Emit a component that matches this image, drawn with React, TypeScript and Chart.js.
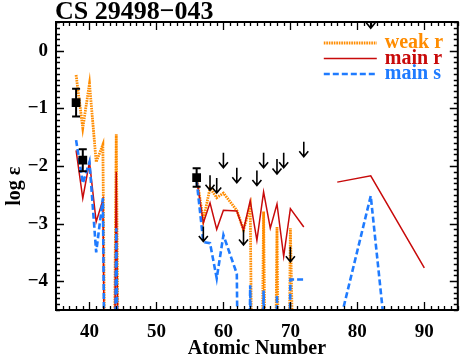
import React, { useEffect, useRef } from "react";
import { Chart, registerables } from "chart.js";

Chart.register(...registerables);

const titleText = "CS 29498\u2212043";
const xTitle = "Atomic Number";
const yTitle = "log \u03b5";
const xTickValues = [40, 50, 60, 70, 80, 90];
const yTickValues = [0, -1, -2, -3, -4];

const seriesNames = ["weak r", "main r", "main s"];

const atomicNumbers = [38, 39, 40, 41, 42, 43, 44, 45, 50, 56, 57, 58, 59, 60, 62, 63, 64, 65, 66, 67, 68, 69, 70, 72, 74, 77, 82, 90];
const weakR = [-0.42, -1.34, -0.57, -1.93, -1.63, -15, -1.45, -15, null, -2.2, -2.94, -2.38, -2.55, -2.47, -2.77, -3.11, -2.7, -15, -2.79, -15, -3.06, -15, -3.08, -15, null, null, null, null];
const mainR = [-1.73, -2.56, -1.93, -2.97, -2.59, -15, -2.1, -15, null, -2.2, -2.99, -2.64, -3.1, -2.77, -2.78, -3.11, -2.6, -3.29, -2.45, -3.08, -2.66, -3.57, -2.74, -3.06, null, -2.28, -2.17, -3.77];
const mainS = [-1.55, -2.3, -1.93, -3.5, -2.56, -15, -3.08, -15, null, -2.25, -3.32, -3.34, -3.95, -3.2, -3.87, -15, -4.07, -15, -4.16, -15, -4.24, -15, -3.97, -3.97, null, -4.9, -2.52, -11.4];

const obsZ = [38, 39, 56];
const obsLogEps = [-0.9, -1.9, -2.2];
const obsErr = [0.24, 0.19, 0.16];

const limitZ = [57, 58, 59, 60, 62, 63, 65, 66, 68, 69, 70, 72, 82];
const limitLogEps = [-3.05, -2.16, -2.21, -1.77, -2.03, -3.11, -2.08, -1.77, -1.88, -1.77, -3.4, -1.58, 0.65];

const FONT = "'Liberation Serif', 'Times New Roman', serif";
const COLORS = ["#FF8C00", "#C80A0A", "#1F7BFF"];
const WIDTHS = [2.8, 1.5, 2.6];
const DASHES: number[][] = [[1.6, 0.9], [], [6, 3]];

export default function App() {
  const ref = useRef<HTMLCanvasElement>(null);

  useEffect(() => {
    const canvas = ref.current;
    if (!canvas) return;

    const toPts = (vals: (number | null)[]) => atomicNumbers.map((z, i) => ({ x: z, y: vals[i] }));

    const overlay = {
      id: "overlay",
      afterDatasetsDraw(chart: any) {
        const { ctx, chartArea: a, scales } = chart;
        const xs = scales.x;
        const ys = scales.y;
        ctx.save();
        ctx.beginPath();
        ctx.rect(a.left, a.top, a.right - a.left, a.bottom - a.top);
        ctx.clip();
        ctx.strokeStyle = "#000";
        ctx.lineWidth = 2;
        obsZ.forEach((z, i) => {
          const x = xs.getPixelForValue(z);
          const y1 = ys.getPixelForValue(obsLogEps[i] + obsErr[i]);
          const y2 = ys.getPixelForValue(obsLogEps[i] - obsErr[i]);
          ctx.beginPath();
          ctx.moveTo(x, y1);
          ctx.lineTo(x, y2);
          ctx.moveTo(x - 4, y1);
          ctx.lineTo(x + 4, y1);
          ctx.moveTo(x - 4, y2);
          ctx.lineTo(x + 4, y2);
          ctx.stroke();
        });
        ctx.lineWidth = 1.6;
        limitZ.forEach((z, i) => {
          const x = xs.getPixelForValue(z);
          const yTop = ys.getPixelForValue(limitLogEps[i]);
          const yTip = yTop + 15;
          ctx.beginPath();
          ctx.moveTo(x, yTop);
          ctx.lineTo(x, yTip);
          ctx.moveTo(x - 4.5, yTip - 5.5);
          ctx.lineTo(x, yTip);
          ctx.lineTo(x + 4.5, yTip - 5.5);
          ctx.stroke();
        });
        ctx.restore();
      },
      afterDraw(chart: any) {
        const { ctx, chartArea: a, scales } = chart;
        const xs = scales.x;
        const ys = scales.y;
        ctx.save();
        ctx.strokeStyle = "#000";
        ctx.lineWidth = 2;
        ctx.strokeRect(a.left, a.top, a.right - a.left, a.bottom - a.top);
        ctx.lineWidth = 1.3;
        ctx.beginPath();
        for (let v = Math.ceil(xs.min); v <= xs.max; v += 1) {
          const x = Math.round(xs.getPixelForValue(v)) + 0.5;
          const len = xTickValues.includes(v) ? 8 : 4;
          ctx.moveTo(x, a.bottom);
          ctx.lineTo(x, a.bottom - len);
          ctx.moveTo(x, a.top);
          ctx.lineTo(x, a.top + len);
        }
        for (let k = Math.ceil(ys.min * 10); k <= ys.max * 10; k += 1) {
          const v = k / 10;
          const y = Math.round(ys.getPixelForValue(v)) + 0.5;
          const len = k % 10 === 0 ? 8 : 4;
          ctx.moveTo(a.left, y);
          ctx.lineTo(a.left + len, y);
          ctx.moveTo(a.right, y);
          ctx.lineTo(a.right - len, y);
        }
        ctx.stroke();
        // title
        ctx.fillStyle = "#000";
        ctx.font = "bold 26px " + FONT;
        ctx.textBaseline = "alphabetic";
        ctx.textAlign = "left";
        ctx.fillText(titleText, a.left - 1, 19);
        // y axis title
        ctx.save();
        ctx.translate(15, a.top + (a.bottom - a.top) * 0.57);
        ctx.rotate(-Math.PI / 2);
        ctx.textAlign = "center";
        ctx.textBaseline = "middle";
        ctx.font = "bold 20px " + FONT;
        ctx.fillText(yTitle, 0, 0);
        ctx.restore();
        // legend
        const lx0 = a.right - 134;
        const lx1 = a.right - 81;
        const tx = a.right - 73;
        ctx.font = "bold 20px " + FONT;
        seriesNames.forEach((name, i) => {
          const y = a.top + 21 + i * 15.5;
          ctx.strokeStyle = COLORS[i];
          ctx.lineWidth = WIDTHS[i];
          ctx.setLineDash(DASHES[i]);
          ctx.beginPath();
          ctx.moveTo(lx0, y);
          ctx.lineTo(lx1, y);
          ctx.stroke();
          ctx.setLineDash([]);
          ctx.fillStyle = COLORS[i];
          ctx.textBaseline = "alphabetic";
          ctx.fillText(name, tx, y + 5);
        });
        ctx.restore();
      },
    };

    const lineDs = (label: string, vals: (number | null)[], i: number, order: number) => ({
      type: "line" as const,
      label,
      data: toPts(vals),
      borderColor: COLORS[i],
      backgroundColor: COLORS[i],
      borderWidth: WIDTHS[i],
      borderDash: DASHES[i],
      pointRadius: 0,
      fill: false,
      tension: 0,
      spanGaps: false,
      order,
    });

    const chart = new Chart(canvas, {
      type: "line",
      data: {
        datasets: [
          lineDs(seriesNames[0], weakR, 0, 3),
          lineDs(seriesNames[1], mainR, 1, 2),
          lineDs(seriesNames[2], mainS, 2, 1),
          {
            type: "scatter" as const,
            label: "observed",
            data: obsZ.map((z, i) => ({ x: z, y: obsLogEps[i] })),
            pointStyle: "rect",
            pointRadius: 6.2,
            backgroundColor: "#000",
            borderColor: "#000",
            borderWidth: 0,
            showLine: false,
            order: 0,
          } as any,
        ],
      },
      options: {
        animation: false,
        responsive: false,
        devicePixelRatio: 1,
        layout: { padding: { top: 22, right: 3, left: 0, bottom: 0 } },
        plugins: {
          legend: { display: false },
          title: { display: false },
          tooltip: { enabled: false },
        },
        scales: {
          x: {
            type: "linear",
            min: 35,
            max: 95,
            grid: { display: false, drawTicks: false },
            border: { display: false },
            afterBuildTicks: (s: any) => {
              s.ticks = xTickValues.map((v) => ({ value: v }));
            },
            afterFit: (s: any) => {
              s.height = 45;
            },
            ticks: {
              color: "#000",
              padding: 11,
              maxRotation: 0,
              font: { family: FONT, size: 19, weight: "bold" },
              callback: (v: any) => String(v),
            },
            title: {
              display: true,
              text: xTitle,
              color: "#000",
              padding: { top: 0, bottom: 0 },
              font: { family: FONT, size: 20, weight: "bold", lineHeight: 0.65 },
            },
          },
          y: {
            type: "linear",
            min: -4.5,
            max: 0.5,
            grid: { display: false, drawTicks: false },
            border: { display: false },
            afterBuildTicks: (s: any) => {
              s.ticks = yTickValues.map((v) => ({ value: v }));
            },
            afterFit: (s: any) => {
              s.width = 56;
            },
            ticks: {
              color: "#000",
              padding: 8,
              font: { family: FONT, size: 19, weight: "bold" },
              callback: (v: any) => (v < 0 ? "\u2212" + Math.abs(v) : String(v)),
            },
            title: { display: false },
          },
        },
      } as any,
      plugins: [overlay],
    });

    return () => chart.destroy();
  }, []);

  return (
    <div style={{ position: "fixed", left: 0, top: 0, width: 464, height: 355, background: "#fff" }}>
      <canvas ref={ref} width={464} height={355} style={{ display: "block", width: 464, height: 355 }} />
    </div>
  );
}
